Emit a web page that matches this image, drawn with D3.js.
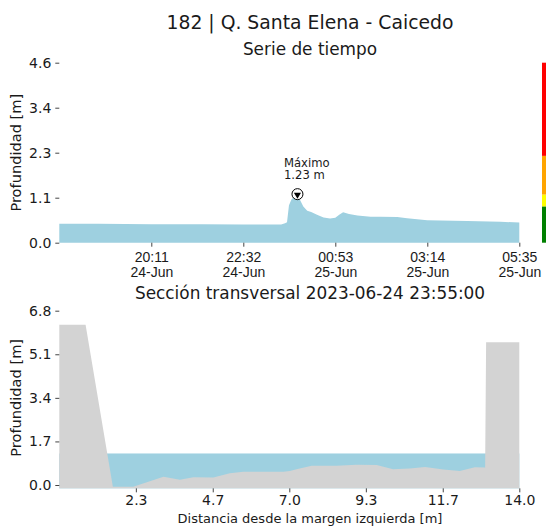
<!DOCTYPE html>
<html>
<head>
<meta charset="utf-8">
<script src="https://cdn.jsdelivr.net/npm/d3@7"></script>
<style>
  body { margin: 0; background: #fff; }
  svg { display: block; font-family: "DejaVu Sans", sans-serif; }
</style>
</head>
<body>
<div id="chart"></div>
<script>
// Titles
var mainTitle = "182 | Q. Santa Elena - Caicedo",
    seriesTitle = "Serie de tiempo",
    sectionTitle = "Sección transversal 2023-06-24 23:55:00";

// Time series (depth in m)
var times = ["2023-06-24 17:50", "2023-06-24 18:50", "2023-06-24 20:11", "2023-06-24 21:30",
  "2023-06-24 22:32", "2023-06-24 23:30", "2023-06-24 23:36", "2023-06-24 23:39",
  "2023-06-24 23:42", "2023-06-24 23:46", "2023-06-24 23:50", "2023-06-24 23:55",
  "2023-06-24 23:59", "2023-06-25 00:04", "2023-06-25 00:10", "2023-06-25 00:16",
  "2023-06-25 00:25", "2023-06-25 00:35", "2023-06-25 00:45", "2023-06-25 00:53",
  "2023-06-25 00:59", "2023-06-25 01:05", "2023-06-25 01:14", "2023-06-25 01:27",
  "2023-06-25 01:47", "2023-06-25 02:02", "2023-06-25 02:28", "2023-06-25 02:43",
  "2023-06-25 03:14", "2023-06-25 04:15", "2023-06-25 05:06", "2023-06-25 05:35"];
var depths = [0.48, 0.48, 0.47, 0.47,
  0.46, 0.46, 0.49, 0.52,
  0.95, 1.10, 1.16, 1.23,
  1.08, 0.92, 0.81, 0.78,
  0.71, 0.64, 0.61, 0.63,
  0.71, 0.77, 0.73, 0.69,
  0.66, 0.66, 0.65, 0.62,
  0.57, 0.55, 0.53, 0.51];
var timeTicks = ["2023-06-24 20:11", "2023-06-24 22:32", "2023-06-25 00:53",
  "2023-06-25 03:14", "2023-06-25 05:35"];
var depthTicks = [0, 1.14, 2.28, 3.42, 4.56];

// Alert levels (colour bar on the right)
var alertLevels = [0, 0.92, 1.22, 2.2, 4.56];
var alertColors = ["green", "yellow", "orange", "red"];

// Cross section
var distances = [0, 0.80, 1.63, 2.25, 3.17, 3.67, 4.08, 4.69, 5.19, 5.60, 6.31, 6.82,
  7.02, 7.22, 7.68, 8.44, 9.05, 9.66, 10.16, 10.67, 11.13, 11.69, 12.19, 12.65,
  12.96, 12.99, 14.0];
var bed = [6.25, 6.25, -0.07, -0.07, 0.32, 0.20, 0.30, 0.29, 0.46, 0.52, 0.52, 0.52,
  0.55, 0.61, 0.75, 0.75, 0.79, 0.78, 0.61, 0.64, 0.70, 0.60, 0.55, 0.69,
  0.68, 5.57, 5.57];
var waterLevel = 1.23;
var distTicks = [2.33, 4.67, 7.0, 9.33, 11.67, 14.0];
var sectionTicks = [0, 1.7, 3.4, 5.1, 6.8];

var width = 546, height = 527;
var left = 59.3, right = 519.3;
var textColor = "#1a1a1a", tickColor = "#444";
var water = "#9ed0e0", ground = "#d3d3d3";

var svg = d3.select("#chart").append("svg")
  .attr("width", width)
  .attr("height", height);

// TITLES
svg.append("text").text(mainTitle)
  .attr("x", 310).attr("y", 29)
  .attr("text-anchor", "middle")
  .attr("font-size", "18.8px").attr("fill", textColor);
svg.append("text").text(seriesTitle)
  .attr("x", 310).attr("y", 55)
  .attr("text-anchor", "middle")
  .attr("font-size", "16.9px").attr("fill", textColor);
svg.append("text").text(sectionTitle)
  .attr("x", 310).attr("y", 298.5)
  .attr("text-anchor", "middle")
  .attr("font-size", "16.9px").attr("fill", textColor);

// TOP: TIME SERIES
var parse = d3.utcParse("%Y-%m-%d %H:%M");
var series = times.map(function(t, i){ return {t: parse(t), v: depths[i]}; });

var x1 = d3.scaleUtc()
  .domain(d3.extent(series, function(d){ return d.t; }))
  .range([left, right]);
var y1 = d3.scaleLinear()
  .domain([0, depthTicks[depthTicks.length - 1]])
  .range([242.7, 62.7]);

svg.append("path")
  .datum(series)
  .attr("fill", water)
  .attr("d", d3.area()
    .x(function(d){ return x1(d.t); })
    .y0(y1(0))
    .y1(function(d){ return y1(d.v); }));

var xAxis1 = svg.append("g")
  .attr("transform", "translate(0," + y1(0) + ")")
  .call(d3.axisBottom(x1)
    .tickValues(timeTicks.map(parse))
    .tickSize(4)
    .tickFormat(""));
xAxis1.select(".domain").remove();
xAxis1.selectAll("line").attr("stroke", tickColor);
var fmtHour = d3.utcFormat("%H:%M"), fmtDay = d3.utcFormat("%d-%b");
xAxis1.selectAll(".tick").each(function(d){
  var t = d3.select(this).append("text")
    .attr("fill", textColor)
    .attr("font-size", "14px")
    .attr("text-anchor", "middle");
  t.append("tspan").attr("x", 0).attr("y", 19).text(fmtHour(d));
  t.append("tspan").attr("x", 0).attr("y", 34.5).text(fmtDay(d));
});

var yAxis1 = svg.append("g")
  .attr("transform", "translate(" + left + ",0)")
  .call(d3.axisLeft(y1)
    .tickValues(depthTicks)
    .tickSize(4)
    .tickPadding(4)
    .tickFormat(d3.format(".1f")));
yAxis1.select(".domain").remove();
yAxis1.selectAll("line").attr("stroke", tickColor);
yAxis1.selectAll("text").attr("fill", textColor).attr("font-size", "14px")
  .attr("font-family", "DejaVu Sans");

svg.append("text").text("Profundidad [m]")
  .attr("transform", "translate(20.5," + (y1(0) + y1.range()[1]) / 2 + ") rotate(-90)")
  .attr("text-anchor", "middle")
  .attr("font-size", "14.6px").attr("fill", textColor);

// maximum marker
var peak = series[d3.maxIndex(series, function(d){ return d.v; })];
var px = x1(peak.t), py = y1(peak.v);
svg.append("circle")
  .attr("cx", px).attr("cy", py).attr("r", 5.5)
  .attr("fill", "#fff").attr("stroke", "#000").attr("stroke-width", 1);
svg.append("path")
  .attr("d", d3.symbol().type(d3.symbolTriangle).size(22))
  .attr("transform", "translate(" + px + "," + (py + 0.6) + ") rotate(180)")
  .attr("fill", "#000");
svg.append("text").text("Máximo")
  .attr("x", px - 13.5).attr("y", py - 27.5)
  .attr("font-size", "11.6px").attr("fill", textColor);
svg.append("text").text(d3.format(".2f")(peak.v) + " m")
  .attr("x", px - 13.5).attr("y", py - 15)
  .attr("font-size", "11.6px").attr("fill", textColor);

// alert colour bar
svg.selectAll(".alert")
  .data(alertColors).enter()
  .append("rect")
  .attr("class", "alert")
  .attr("x", 542)
  .attr("width", 6)
  .attr("y", function(d, i){ return y1(alertLevels[i + 1]); })
  .attr("height", function(d, i){ return y1(alertLevels[i]) - y1(alertLevels[i + 1]); })
  .attr("fill", function(d){ return d; });

// BOTTOM: CROSS SECTION
var profile = distances.map(function(d, i){ return {x: d, y: bed[i]}; });
var x2 = d3.scaleLinear().domain([0, 14]).range([left, right]);
var y2 = d3.scaleLinear().domain([0, 6.8]).range([485, 310.7]);
var yBottom = -0.13;

svg.append("rect")
  .attr("x", x2(0))
  .attr("width", x2(14) - x2(0))
  .attr("y", y2(waterLevel))
  .attr("height", y2(yBottom) - y2(waterLevel))
  .attr("fill", water);

svg.append("path")
  .datum(profile)
  .attr("fill", ground)
  .attr("d", d3.area()
    .x(function(d){ return x2(d.x); })
    .y0(y2(yBottom))
    .y1(function(d){ return y2(d.y); }));

var xAxis2 = svg.append("g")
  .attr("transform", "translate(0," + y2(yBottom) + ")")
  .call(d3.axisBottom(x2)
    .tickValues(distTicks)
    .tickSize(4)
    .tickPadding(3)
    .tickFormat(d3.format(".1f")));
xAxis2.select(".domain").remove();
xAxis2.selectAll("line").attr("stroke", tickColor);
xAxis2.selectAll("text").attr("fill", textColor).attr("font-size", "14px")
  .attr("font-family", "DejaVu Sans");

var yAxis2 = svg.append("g")
  .attr("transform", "translate(" + left + ",0)")
  .call(d3.axisLeft(y2)
    .tickValues(sectionTicks)
    .tickSize(4)
    .tickPadding(4)
    .tickFormat(d3.format(".1f")));
yAxis2.select(".domain").remove();
yAxis2.selectAll("line").attr("stroke", tickColor);
yAxis2.selectAll("text").attr("fill", textColor).attr("font-size", "14px")
  .attr("font-family", "DejaVu Sans");

svg.append("text").text("Profundidad [m]")
  .attr("transform", "translate(20.5," + (y2(0) + y2(6.8)) / 2 + ") rotate(-90)")
  .attr("text-anchor", "middle")
  .attr("font-size", "14.6px").attr("fill", textColor);

svg.append("text").text("Distancia desde la margen izquierda [m]")
  .attr("x", 310).attr("y", 523.3)
  .attr("text-anchor", "middle")
  .attr("font-size", "13px").attr("fill", textColor);
</script>
</body>
</html>
